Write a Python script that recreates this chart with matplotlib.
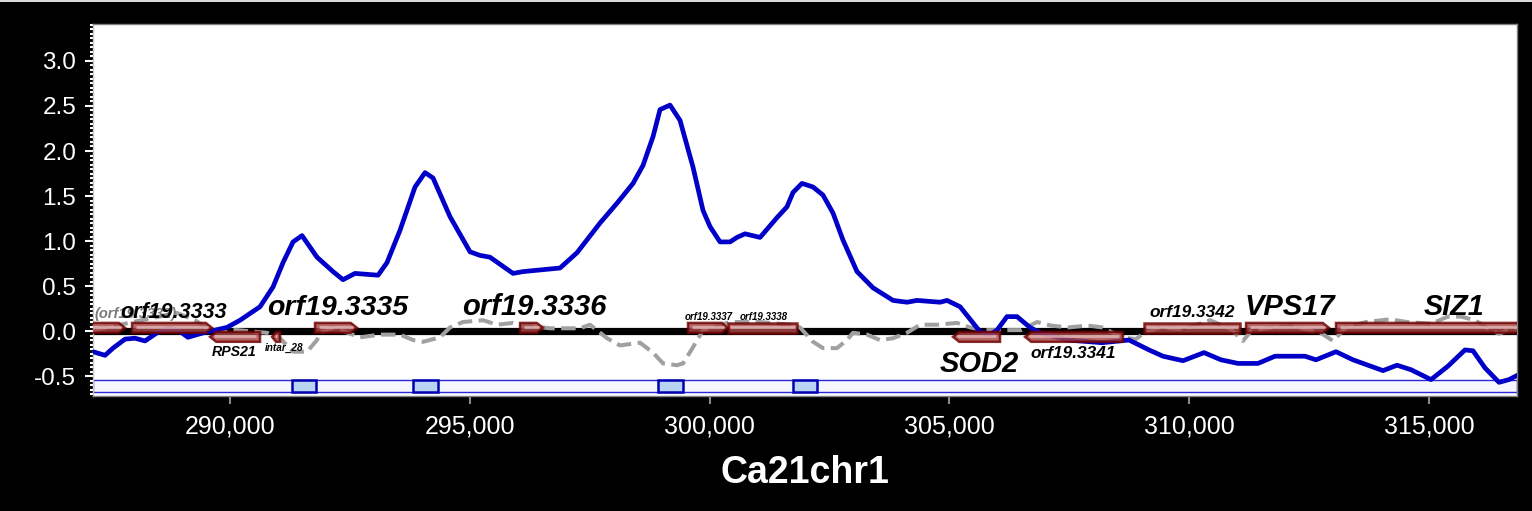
import matplotlib
matplotlib.use('Agg')
import matplotlib.pyplot as plt
from matplotlib.patches import Polygon, Rectangle
from matplotlib.ticker import MultipleLocator, FuncFormatter, FormatStrFormatter

plt.rcParams['font.family'] = ['Liberation Sans', 'DejaVu Sans']

# ---------------- data ----------------
blue_pos = [287143, 287394, 287561, 287811, 288019, 288228, 288478, 288749, 288916, 289124,
            289312, 289520, 289937, 290209, 290626, 290897, 291105, 291314, 291501, 291814,
            292148, 292356, 292606, 293086, 293273, 293545, 293857, 294066, 294233, 294587,
            295004, 295213, 295421, 295901, 296109, 296881, 297235, 297715, 298069, 298403,
            298611, 298820, 298966, 299174, 299383, 299654, 299862, 300008, 300217, 300425,
            300571, 300738, 301051, 301405, 301613, 301739, 301926, 302156, 302364, 302573,
            302781, 303073, 303407, 303824, 304115, 304324, 304804, 304950, 305221, 305492,
            305638, 305846, 305992, 306200, 306409, 306680, 306889, 307472, 308181, 308744,
            309161, 309453, 309870, 310308, 310662, 311017, 311434, 311788, 312414, 312643,
            313060, 313415, 314040, 314332, 314624, 315041, 315395, 315750, 315917, 316167,
            316459, 316667, 316813]
blue_val = [-0.23, -0.27, -0.19, -0.09, -0.08, -0.11, -0.02, 0.03, 0.01, -0.07,
            -0.04, -0.01, 0.04, 0.12, 0.27, 0.49, 0.76, 0.99, 1.06, 0.82,
            0.66, 0.57, 0.64, 0.62, 0.76, 1.12, 1.60, 1.76, 1.70, 1.27,
            0.88, 0.84, 0.82, 0.64, 0.66, 0.70, 0.87, 1.20, 1.42, 1.64,
            1.84, 2.16, 2.46, 2.51, 2.34, 1.82, 1.34, 1.16, 0.99, 0.99,
            1.04, 1.08, 1.04, 1.26, 1.38, 1.54, 1.64, 1.60, 1.51, 1.31,
            1.01, 0.66, 0.48, 0.34, 0.32, 0.34, 0.32, 0.34, 0.27, 0.09,
            -0.01, -0.04, 0.01, 0.16, 0.16, 0.04, -0.02, -0.10, -0.13, -0.10,
            -0.21, -0.28, -0.33, -0.24, -0.32, -0.36, -0.36, -0.28, -0.28, -0.32,
            -0.23, -0.32, -0.44, -0.38, -0.43, -0.54, -0.39, -0.21, -0.22, -0.41,
            -0.57, -0.54, -0.50]

gray_pos = [287143, 287707, 288332, 288895, 289270, 289583, 290146, 290771, 291043, 291314,
            291605, 291814, 291877, 292148, 292711, 293128, 293545, 293816, 294024, 294379,
            294587, 294858, 295275, 295567, 295901, 296047, 296672, 297298, 297506, 297860,
            298132, 298549, 298820, 299028, 299320, 299445, 299654, 299862, 300425, 301051,
            301676, 301884, 302156, 302364, 302656, 302864, 302990, 303281, 303553, 303824,
            304115, 304387, 304741, 305158, 305429, 305742, 306075, 306492, 306826, 307118,
            307472, 307889, 308181, 308598, 308890, 309036, 309370, 309870, 310433, 310871,
            311121, 311288, 311705, 312143, 312414, 312768, 312998, 313269, 313686, 314186,
            314540, 315041, 315395, 315667, 315958, 316250, 316459, 316813]
gray_val = [0.01, 0.07, 0.14, 0.20, 0.12, 0.01, 0.01, -0.02, -0.08, -0.23,
            -0.23, -0.10, -0.02, 0.04, -0.07, -0.04, -0.04, -0.10, -0.12, -0.07,
            0.04, 0.10, 0.12, 0.07, 0.09, 0.07, 0.03, 0.03, 0.07, -0.08,
            -0.16, -0.13, -0.24, -0.36, -0.38, -0.36, -0.18, 0.01, 0.10, 0.10,
            0.07, 0.04, -0.12, -0.19, -0.19, -0.10, -0.02, -0.04, -0.10, -0.08,
            -0.02, 0.07, 0.07, 0.09, 0.04, 0.01, 0.01, 0.01, 0.10, 0.06,
            0.04, 0.06, 0.04, -0.07, -0.09, -0.03, 0.04, 0.02, 0.12, 0.02,
            -0.11, 0.00, 0.04, 0.06, 0.02, -0.03, -0.11, 0.04, 0.10, 0.13,
            0.10, 0.08, 0.16, 0.16, 0.12, 0.02, -0.03, 0.04]

gene_names = ['orf19.3332', 'orf19.3333', 'RPS21', 'intar_28', 'orf19.3335', 'orf19.3336',
              'orf19.3337', 'orf19.3338', 'SOD2', 'orf19.3341', 'orf19.3342', 'VPS17', 'SIZ1']
gene_start = [287000, 287957, 289583, 290876, 291772, 296047, 299549, 300383, 305075, 306576,
              309057, 311184, 313060]
gene_end = [287811, 289625, 290626, 291043, 292648, 296526, 300383, 301822, 306055, 308619,
            311059, 312915, 317600]
gene_strand = [1, 1, -1, -1, 1, 1, 1, 1, -1, -1, 1, 1, 1]
gene_arrow = [True, True, True, True, True, True, True, False, True, True, False, True, True]

peak_start = [291293, 293816, 298924, 301739]
peak_end = [291793, 294337, 299445, 302239]

x_ticks = [290000, 295000, 300000, 305000, 310000, 315000]
y_ticks = [-0.5, 0.0, 0.5, 1.0, 1.5, 2.0, 2.5, 3.0]
chrom_label = 'Ca21chr1'

# ---------------- layout ----------------
W, H = 1532, 511
fig = plt.figure(figsize=(W / 100, H / 100), dpi=100, facecolor='black')
ax = fig.add_axes([93 / W, 1 - 396 / H, (1517 - 93) / W, (396 - 24) / H])
ax.set_facecolor('white')
ax.set_xlim(287143, 316834)
ax.set_ylim(-0.722, 3.411)

# thin light strip at very top of figure
fig.patches.append(Rectangle((0, 1 - 2 / H), 1, 2 / H, transform=fig.transFigure,
                             facecolor='#d8d8d8', edgecolor='none'))

# bottom peak track
band_lo, band_hi = -0.678, -0.544
ax.axhspan(band_lo, band_hi, facecolor='#f6f6ff', edgecolor='#2828d8', lw=1.0, zorder=1)
for s, e in zip(peak_start, peak_end):
    ax.add_patch(Rectangle((s, band_lo), e - s, band_hi - band_lo, facecolor='#b8d4f4',
                           edgecolor='#0000b0', lw=1.8, zorder=2))

# genome baseline
ax.axhline(0, color='black', lw=5.2, zorder=2)

# data tracks
ax.plot(gray_pos, gray_val, color='#a0a0a0', lw=2.9, dashes=(3.6, 1.6), zorder=3,
        dash_capstyle='butt', dash_joinstyle='round')
ax.plot(blue_pos, blue_val, color='#0000c8', lw=3.4, zorder=4, solid_joinstyle='round')

# genes
tip = 130
for name, s, e, st, arr in zip(gene_names, gene_start, gene_end, gene_strand, gene_arrow):
    if st > 0:
        y0, y1 = -0.02, 0.09
    else:
        y0, y1 = -0.12, -0.01
    ym = (y0 + y1) / 2
    t = min(tip, (e - s) * 0.5) if arr else 0
    if st > 0:
        pts = [(s, y0), (e - t, y0), (e, ym), (e - t, y1), (s, y1)]
    else:
        pts = [(e, y0), (s + t, y0), (s, ym), (s + t, y1), (e, y1)]
    ax.add_patch(Polygon(pts, closed=True, facecolor='#a84848', edgecolor='#700000',
                         lw=1.8, alpha=0.82, zorder=5))
    ax.plot([s + t * 0.3 + 40, e - t * 0.3 - 40], [ym + 0.012, ym + 0.012], color='#e8c0c0',
            lw=2.0, alpha=0.75, zorder=5.5, solid_capstyle='butt')

# gene labels (x, baseline y, size, color, text)
label_layout = {
    'orf19.3332': (288040, 0.150, 10.5, '#7a7a7a', '(orf19.3332)'),
    'orf19.3333': (288832, 0.150, 15.5, 'black', 'orf19.3333'),
    'RPS21': (290083, -0.280, 10.2, 'black', 'RPS21'),
    'intar_28': (291130, -0.225, 7.2, 'black', 'intar_28'),
    'orf19.3335': (292252, 0.175, 20.5, 'black', 'orf19.3335'),
    'orf19.3336': (296338, 0.175, 21.0, 'black', 'orf19.3336'),
    'orf19.3337': (299987, 0.120, 7.0, 'black', 'orf19.3337'),
    'orf19.3338': (301134, 0.120, 7.0, 'black', 'orf19.3338'),
    'SOD2': (305617, -0.455, 21.0, 'black', 'SOD2'),
    'orf19.3341': (307577, -0.300, 12.4, 'black', 'orf19.3341'),
    'orf19.3342': (310058, 0.155, 12.4, 'black', 'orf19.3342'),
    'VPS17': (312101, 0.175, 21.0, 'black', 'VPS17'),
    'SIZ1': (315520, 0.175, 20.7, 'black', 'SIZ1'),
}
for name in gene_names:
    x, y, sz, col, txt = label_layout[name]
    ax.text(x, y, txt, ha='center', va='baseline', fontsize=sz, color=col,
            fontweight='bold', fontstyle='italic', zorder=6)

# axes styling
for sp in ax.spines.values():
    sp.set_color('#808080')
    sp.set_linewidth(1.0)
ax.spines['left'].set_color('#c8c8c8')

ax.set_xticks(x_ticks)
ax.xaxis.set_major_formatter(FuncFormatter(lambda v, p: f'{int(v):,}'))
ax.set_yticks(y_ticks)
ax.yaxis.set_major_formatter(FormatStrFormatter('%.1f'))
ax.yaxis.set_minor_locator(MultipleLocator(0.05))

ax.tick_params(axis='y', which='major', direction='out', length=6, width=1.5,
               color='white', labelcolor='white', labelsize=17.5, pad=6)
ax.tick_params(axis='y', which='minor', direction='out', length=2.5, width=1.5, color='white')
ax.tick_params(axis='x', which='major', direction='out', length=6, width=1.5,
               color='#8a8a8a', labelcolor='white', labelsize=18, pad=7)

ax.set_xlabel(chrom_label, color='white', fontsize=27, fontweight='bold', labelpad=12)

fig.savefig('out.png', dpi=100, facecolor='black')
